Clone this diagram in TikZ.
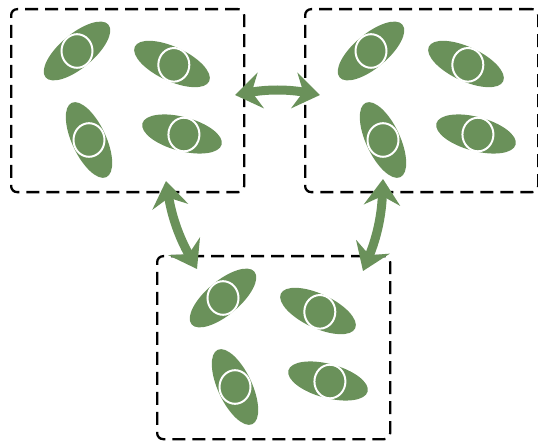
\documentclass[tikz,border=0pt]{standalone}
\usetikzlibrary{arrows.meta}
\definecolor{leaf}{RGB}{106,145,90}
\tikzset{
  box/.style={draw=black, line width=2.3pt, dash pattern=on 13pt off 7pt, rounded corners=6pt, minimum width=233pt, minimum height=183pt, anchor=north west, inner sep=0pt},
  leafhead/.tip={Stealth[length=26pt,width=36pt,inset=9pt]},
  dbl/.style={leaf, line width=9pt, leafhead-leafhead},
}
\newcommand\cellshape[4]{%
  \begin{scope}[shift={(#1,#2)}, rotate=#3]
    \fill[leaf] (0pt,0pt) ellipse [x radius=41pt, y radius=17pt];
    \draw[white, line width=2pt, fill=leaf, rotate around={-#3:(#4pt,0pt)}] (#4pt,0pt) ellipse [x radius=15.5pt, y radius=16.8pt];
  \end{scope}}
\newcommand\cluster[3]{%
  \node[box] (#3) at (#1,#2) {};
  \begin{scope}[shift={(#1,#2)}]
    \cellshape{67}{43}{40}{0}
    \cellshape{162}{56}{-25}{2}
    \cellshape{79}{132}{-65}{0}
    \cellshape{172}{126}{-15}{2}
  \end{scope}}
\begin{document}
\begin{tikzpicture}[x=1pt,y=-1pt]
  \useasboundingbox (0,0) rectangle (538,443);
  \cluster{10}{8}{b1}
  \cluster{304}{8}{b2}
  \cluster{156}{255}{b3}
  \coordinate (a1) at (235,95);
  \coordinate (a2) at (320,95);
  \coordinate (c1) at (166,181);
  \coordinate (c2) at (197,269);
  \coordinate (d1) at (383,179);
  \coordinate (d2) at (363,271);
  \draw[dbl] (a1) to[bend left=10] (a2);
  \draw[dbl] (c1) to[bend right=10] (c2);
  \draw[dbl] (d1) to[bend left=10] (d2);
\end{tikzpicture}
\end{document}
